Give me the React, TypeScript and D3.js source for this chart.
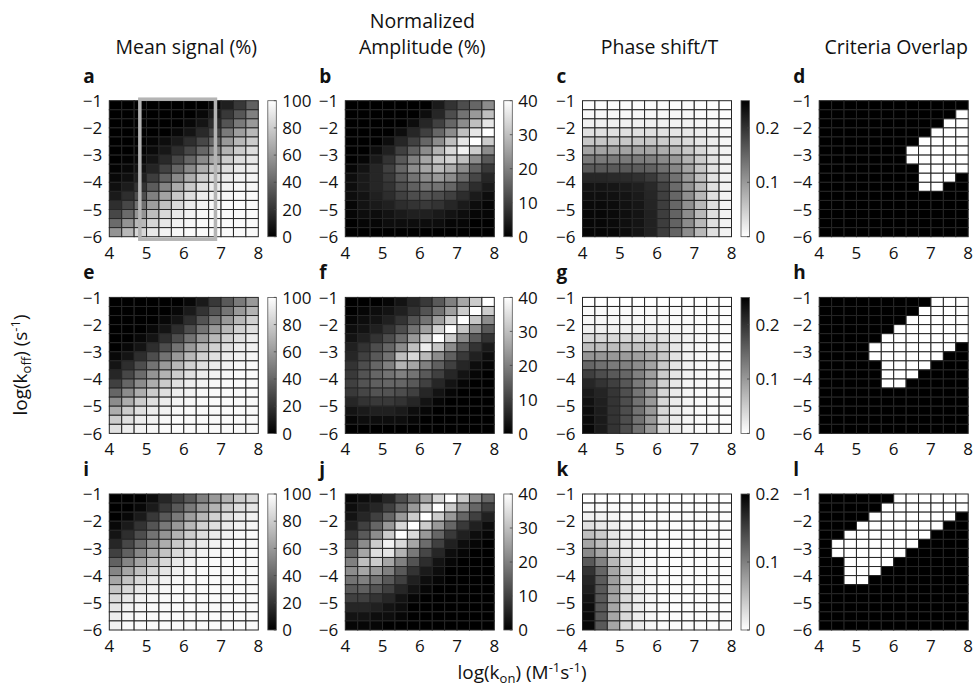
import React from "react";
import * as d3 from "d3";

// ---------- DATA (rows: log(koff) from -1 (top) to -6 (bottom); cols: log(kon) 4 -> 8) ----------
const NX = 12;
const NY = 15;
const xTicks = [4, 5, 6, 7, 8];
const yTicks = [-1, -2, -3, -4, -5, -6];
const titles = ["Mean signal (%)", "Normalized|Amplitude (%)", "Phase shift/T", "Criteria Overlap"];
const letters = ["a", "b", "c", "d", "e", "f", "g", "h", "i", "j", "k", "l"];
const signalTicks = [0, 20, 40, 60, 80, 100];
const amplitudeTicks = [0, 10, 20, 30, 40];
const phaseTicks = [0, 0.1, 0.2];

const meanSignalA = [
  [0,0,0,0,0,0,0,0,3,12,22,38],
  [0,0,0,0,0,0,0,3,10,22,34,50],
  [0,0,0,0,0,0,3,8,18,33,48,60],
  [0,0,0,0,0,3,8,16,28,48,62,72],
  [0,0,0,2,5,10,18,28,40,60,72,80],
  [0,0,1,4,9,18,28,40,52,70,80,87],
  [0,1,3,8,16,28,40,54,66,80,87,91],
  [1,3,7,14,26,40,54,68,78,87,92,94],
  [3,6,12,24,38,54,68,80,87,92,95,96],
  [6,11,20,36,52,67,79,88,92,95,97,97],
  [10,18,30,50,64,78,87,93,95,97,98,98],
  [18,28,44,62,76,86,92,95,97,98,98,98],
  [28,42,58,74,85,91,95,97,98,98,98,98],
  [42,58,72,84,91,95,97,98,98,98,98,98],
  [58,72,84,91,95,97,98,98,98,98,98,98],
];
const meanSignalE = [
  [0,0,0,0,0,0,3,10,22,35,48,60],
  [0,0,0,0,0,3,10,20,33,46,60,70],
  [0,0,0,0,3,8,18,32,46,60,72,82],
  [0,0,0,3,8,18,30,45,60,72,82,88],
  [0,0,3,8,18,30,45,60,72,82,88,93],
  [0,3,8,18,30,45,60,72,82,88,93,95],
  [3,8,18,30,45,60,72,82,88,93,95,97],
  [8,18,30,45,60,72,82,88,93,95,97,98],
  [15,28,42,58,70,80,88,93,95,97,98,98],
  [25,40,55,68,80,88,93,95,97,98,98,98],
  [40,55,68,80,88,93,95,97,98,98,98,98],
  [55,68,80,88,93,95,97,98,98,98,98,98],
  [68,80,88,93,95,97,98,98,98,98,98,98],
  [80,88,93,95,97,98,98,98,98,98,98,98],
  [88,93,95,97,98,98,98,98,98,98,98,98],
];
const meanSignalI = [
  [0,0,0,5,15,25,35,50,60,70,80,85],
  [0,0,3,10,22,35,48,60,70,80,87,90],
  [0,3,10,22,35,48,62,72,82,88,92,95],
  [3,10,20,33,47,60,72,82,88,92,95,97],
  [8,18,30,45,58,70,80,87,92,95,97,98],
  [15,28,42,56,68,79,87,92,95,97,98,98],
  [25,38,53,66,77,86,91,95,97,98,98,98],
  [38,52,64,75,85,91,95,97,98,98,98,98],
  [52,65,75,84,90,94,97,98,98,98,98,98],
  [65,77,85,91,95,97,98,98,98,98,98,98],
  [77,85,91,95,97,98,98,98,98,98,98,98],
  [85,91,95,97,98,98,98,98,98,98,98,98],
  [90,95,97,98,98,98,98,98,98,98,98,98],
  [93,97,98,98,98,98,98,98,98,98,98,98],
  [95,98,98,98,98,98,98,98,98,98,98,98],
];
const amplitudeB = [
  [0,0,0,0,0,0,0,4,8,12,16,22],
  [0,0,0,0,0,0,2,6,12,18,24,30],
  [0,0,0,0,0,2,6,10,16,22,30,36],
  [0,0,0,0,2,6,10,16,22,30,36,40],
  [0,0,0,2,6,10,16,22,30,36,40,32],
  [0,0,2,5,10,15,22,28,34,38,32,22],
  [0,1,4,8,14,20,26,31,33,30,22,14],
  [1,3,6,10,16,22,26,29,27,22,15,9],
  [2,4,6,9,14,18,22,24,22,17,11,6],
  [2,4,6,8,12,15,18,18,16,11,7,4],
  [2,3,5,7,10,12,13,12,10,7,4,2],
  [1,3,4,5,7,8,9,8,6,4,2,1],
  [1,2,2,3,4,5,5,4,3,2,1,1],
  [0,1,1,2,2,2,2,2,1,1,0,0],
  [0,0,0,0,0,0,0,0,0,0,0,0],
];
const amplitudeF = [
  [0,0,0,1,3,6,9,14,20,26,32,40],
  [0,1,2,3,5,8,13,18,25,32,40,32],
  [1,2,3,5,8,13,18,25,33,40,31,22],
  [2,3,5,8,12,18,25,33,40,31,22,14],
  [3,5,8,12,17,24,32,40,32,22,14,8],
  [5,8,12,16,22,30,37,31,22,14,8,4],
  [6,10,14,18,30,34,29,22,15,9,5,2],
  [8,12,16,20,28,26,20,15,10,6,2,1],
  [9,13,16,18,20,18,14,10,6,3,1,0],
  [10,13,15,16,16,14,10,6,3,1,0,0],
  [9,11,13,13,12,10,6,3,1,0,0,0],
  [6,8,9,9,8,6,3,1,0,0,0,0],
  [3,4,5,5,4,2,1,0,0,0,0,0],
  [1,2,2,2,2,1,0,0,0,0,0,0],
  [0,0,0,0,0,0,0,0,0,0,0,0],
];
const amplitudeJ = [
  [1,2,3,6,12,18,26,34,40,32,22,16],
  [2,4,6,10,16,24,32,40,32,24,16,10],
  [3,6,10,16,24,32,40,32,24,16,10,5],
  [5,10,16,24,34,40,32,24,16,9,5,2],
  [8,14,22,32,40,34,24,16,9,5,2,1],
  [12,22,32,38,34,26,17,10,5,2,1,0],
  [16,26,35,36,28,19,11,6,2,1,0,0],
  [20,30,32,26,20,13,7,3,1,0,0,0],
  [22,26,24,20,14,8,4,2,0,0,0,0],
  [18,20,18,14,10,5,2,1,0,0,0,0],
  [14,15,13,10,6,3,1,0,0,0,0,0],
  [10,10,8,6,3,1,0,0,0,0,0,0],
  [6,6,5,3,2,0,0,0,0,0,0,0],
  [3,3,2,2,1,0,0,0,0,0,0,0],
  [1,1,1,0,0,0,0,0,0,0,0,0],
];
const phaseC = [
  [0.003,0.003,0.003,0.003,0.003,0.003,0.003,0.003,0.003,0.003,0.003,0],
  [0.008,0.008,0.008,0.008,0.008,0.008,0.008,0.008,0.008,0.005,0.005,0.003],
  [0.015,0.015,0.015,0.015,0.015,0.015,0.015,0.013,0.013,0.01,0.008,0.005],
  [0.03,0.03,0.03,0.03,0.03,0.03,0.028,0.025,0.023,0.018,0.013,0.008],
  [0.055,0.055,0.055,0.055,0.055,0.055,0.05,0.043,0.035,0.025,0.018,0.01],
  [0.09,0.09,0.09,0.09,0.09,0.088,0.08,0.07,0.055,0.038,0.023,0.013],
  [0.13,0.13,0.13,0.13,0.128,0.125,0.115,0.1,0.075,0.05,0.028,0.013],
  [0.163,0.163,0.163,0.163,0.16,0.155,0.14,0.118,0.088,0.055,0.028,0.013],
  [0.213,0.213,0.21,0.208,0.203,0.193,0.17,0.138,0.1,0.063,0.028,0.013],
  [0.23,0.23,0.228,0.225,0.22,0.21,0.185,0.145,0.105,0.068,0.03,0.013],
  [0.235,0.235,0.233,0.23,0.225,0.213,0.188,0.15,0.11,0.07,0.03,0.013],
  [0.24,0.24,0.238,0.233,0.228,0.215,0.19,0.15,0.11,0.07,0.03,0.013],
  [0.243,0.243,0.24,0.235,0.23,0.218,0.19,0.153,0.113,0.07,0.03,0.013],
  [0.243,0.243,0.24,0.235,0.23,0.218,0.19,0.153,0.113,0.07,0.03,0.013],
  [0.245,0.245,0.243,0.238,0.23,0.218,0.19,0.153,0.113,0.07,0.03,0.013],
];
const phaseG = [
  [0,0,0,0,0,0,0,0,0,0,0,0],
  [0.005,0.005,0.005,0.005,0.005,0.005,0.005,0.005,0.003,0.003,0.003,0.003],
  [0.008,0.008,0.008,0.008,0.008,0.008,0.008,0.005,0.005,0.003,0.003,0.003],
  [0.015,0.015,0.015,0.015,0.015,0.015,0.013,0.01,0.008,0.005,0.005,0.003],
  [0.038,0.038,0.038,0.038,0.038,0.035,0.028,0.02,0.013,0.008,0.005,0.003],
  [0.065,0.065,0.065,0.063,0.06,0.055,0.043,0.025,0.013,0.008,0.005,0.003],
  [0.105,0.103,0.1,0.098,0.093,0.08,0.055,0.028,0.013,0.008,0.005,0.003],
  [0.15,0.14,0.13,0.125,0.113,0.09,0.053,0.025,0.013,0.008,0.005,0.003],
  [0.188,0.175,0.163,0.15,0.125,0.095,0.05,0.025,0.013,0.008,0.005,0.003],
  [0.213,0.2,0.188,0.165,0.13,0.095,0.045,0.023,0.01,0.008,0.005,0.003],
  [0.225,0.215,0.198,0.173,0.135,0.098,0.04,0.02,0.01,0.005,0.005,0.003],
  [0.233,0.22,0.2,0.175,0.138,0.1,0.038,0.02,0.01,0.005,0.005,0.003],
  [0.238,0.223,0.2,0.175,0.138,0.1,0.038,0.02,0.01,0.005,0.005,0.003],
  [0.24,0.225,0.2,0.175,0.138,0.1,0.038,0.02,0.01,0.005,0.005,0.003],
  [0.243,0.225,0.2,0.175,0.138,0.1,0.038,0.02,0.01,0.005,0.005,0.003],
];
const phaseK = [
  [0,0,0,0,0,0,0,0,0,0,0,0],
  [0.004,0.004,0.004,0.002,0.002,0.002,0.002,0.002,0.002,0.002,0.002,0.002],
  [0.012,0.01,0.008,0.004,0.004,0.002,0.002,0.002,0.002,0.002,0.002,0.002],
  [0.024,0.018,0.012,0.006,0.004,0.002,0.002,0.002,0.002,0.002,0.002,0.002],
  [0.05,0.04,0.02,0.01,0.006,0.002,0.002,0.002,0.002,0.002,0.002,0.002],
  [0.07,0.052,0.026,0.014,0.008,0.004,0.002,0.002,0.002,0.002,0.002,0.002],
  [0.092,0.07,0.036,0.016,0.01,0.004,0.002,0.002,0.002,0.002,0.002,0.002],
  [0.13,0.1,0.056,0.024,0.01,0.004,0.002,0.002,0.002,0.002,0.002,0.002],
  [0.16,0.12,0.07,0.03,0.014,0.006,0.002,0.002,0.002,0.002,0.002,0.002],
  [0.17,0.128,0.076,0.03,0.014,0.006,0.002,0.002,0.002,0.002,0.002,0.002],
  [0.176,0.13,0.076,0.03,0.014,0.006,0.002,0.002,0.002,0.002,0.002,0.002],
  [0.184,0.13,0.072,0.03,0.014,0.006,0.002,0.002,0.002,0.002,0.002,0.002],
  [0.19,0.13,0.07,0.03,0.014,0.006,0.002,0.002,0.002,0.002,0.002,0.002],
  [0.192,0.13,0.07,0.03,0.014,0.006,0.002,0.002,0.002,0.002,0.002,0.002],
  [0.194,0.13,0.07,0.03,0.014,0.006,0.002,0.002,0.002,0.002,0.002,0.002],
];
const overlapD = [
  "000000000000","000000000001","000000000011","000000000111","000000001111",
  "000000011111","000000011111","000000001111","000000001110","000000001100",
  "000000000000","000000000000","000000000000","000000000000","000000000000",
];
const overlapH = [
  "000000000111","000000001111","000000011111","000000111111","000001111111",
  "000011111110","000011111100","000001111000","000001110000","000001100000",
  "000000000000","000000000000","000000000000","000000000000","000000000000",
];
const overlapL = [
  "000000111111","000001111111","000011111110","000111111100","001111111000",
  "011111110000","011111100000","001111000000","001110000000","001100000000",
  "000000000000","000000000000","000000000000","000000000000","000000000000",
];

const toNum = (rows: string[]) => rows.map((r) => r.split("").map(Number));

const grid: number[][][][] = [
  [meanSignalA, amplitudeB, phaseC, toNum(overlapD)],
  [meanSignalE, amplitudeF, phaseG, toNum(overlapH)],
  [meanSignalI, amplitudeJ, phaseK, toNum(overlapL)],
];

// ---------- LAYOUT ----------
const W = 978;
const H = 692;
const LEFTS = [109.3, 345.3, 582.5, 819.2];
const TOPS = [100.7, 297.4, 494];
const PW = 149;
const PH = 136;
const FONT = "'Open Sans', 'DejaVu Sans', sans-serif";
const TICK_FS = 17;

function colorScale(col: number, row: number) {
  if (col === 0) return d3.scaleLinear<string>().domain([0, 100]).range(["#000", "#fff"]).clamp(true);
  if (col === 1) return d3.scaleLinear<string>().domain([0, 40]).range(["#000", "#fff"]).clamp(true);
  if (col === 2) {
    const mx = row === 2 ? 0.2 : 0.25;
    return d3.scaleLinear<string>().domain([0, mx]).range(["#fff", "#000"]).clamp(true);
  }
  return d3.scaleLinear<string>().domain([0, 1]).range(["#000", "#fff"]).clamp(true);
}

function Panel({ row, col }: { row: number; col: number }) {
  const left = LEFTS[col];
  const top = TOPS[row];
  const data = grid[row][col];
  const xs = d3.scaleLinear().domain([4, 8]).range([left, left + PW]);
  const ys = d3.scaleLinear().domain([-6, -1]).range([top + PH, top]);
  const cs = colorScale(col, row);
  const dx = 4 / NX;
  const dy = 5 / NY;
  const cells: JSX.Element[] = [];
  data.forEach((r, ri) =>
    r.forEach((v, ci) => {
      const x0 = xs(4 + ci * dx);
      const x1 = xs(4 + (ci + 1) * dx);
      const y0 = ys(-1 - ri * dy);
      const y1 = ys(-1 - (ri + 1) * dy);
      cells.push(
        <rect key={`${ri}-${ci}`} x={x0} y={y0} width={x1 - x0} height={y1 - y0}
          fill={cs(v)} stroke="#262626" strokeWidth={1} />
      );
    })
  );

  let cb: JSX.Element | null = null;
  if (col < 3) {
    const cbx = left + 158.5;
    const cbw = 8.5;
    const dom = cs.domain();
    const ticks = col === 0 ? signalTicks : col === 1 ? amplitudeTicks : phaseTicks;
    const cy = d3.scaleLinear().domain(dom).range([top + PH, top]);
    const gid = `grad-${row}-${col}`;
    cb = (
      <g>
        <defs>
          <linearGradient id={gid} x1="0" y1="1" x2="0" y2="0">
            <stop offset="0" stopColor={cs(dom[0])} />
            <stop offset="1" stopColor={cs(dom[1])} />
          </linearGradient>
        </defs>
        <rect x={cbx} y={top} width={cbw} height={PH} fill={`url(#${gid})`} stroke="#555" strokeWidth={0.8} />
        {ticks.map((t) => (
          <g key={t}>
            <line x1={cbx + cbw} x2={cbx + cbw - 2.5} y1={cy(t)} y2={cy(t)} stroke="#444" strokeWidth={0.8} />
            <text x={left + 173} y={cy(t)} dy="0.36em" fontSize={TICK_FS} fontFamily={FONT} fill="#111">
              {String(t)}
            </text>
          </g>
        ))}
      </g>
    );
  }

  return (
    <g>
      {cells}
      {col === 0 && row === 0 && (
        <rect x={xs(4.82)} y={top - 1.5} width={xs(6.85) - xs(4.82)} height={PH + 4}
          fill="none" stroke="#b4b4b4" strokeWidth={3.5} />
      )}
      {yTicks.map((t) => (
        <text key={t} x={left - 7} y={ys(t)} dy="0.36em" textAnchor="end" fontSize={TICK_FS} fontFamily={FONT} fill="#111">
          {"\u2212" + Math.abs(t)}
        </text>
      ))}
      {xTicks.map((t) => (
        <text key={t} x={xs(t)} y={top + PH + 22} textAnchor="middle" fontSize={TICK_FS} fontFamily={FONT} fill="#111">
          {t}
        </text>
      ))}
      <text x={left - 26} y={top - 18} fontSize={19} fontWeight="bold" fontFamily={FONT} fill="#111">
        {letters[row * 4 + col]}
      </text>
      {cb}
    </g>
  );
}

export default function App() {
  const panels: JSX.Element[] = [];
  for (let r = 0; r < 3; r++) for (let c = 0; c < 4; c++) panels.push(<Panel key={`${r}${c}`} row={r} col={c} />);
  return (
    <svg width={W} height={H} style={{ position: "absolute", left: 0, top: 0, background: "#fff" }}>
      <rect x={0} y={0} width={W} height={H} fill="#fff" />
      {titles.map((t, i) => {
        const lines = t.split("|");
        const cx = LEFTS[i] + 77;
        return lines.map((ln, j) => (
          <text key={`${i}-${j}`} x={cx} y={54 - (lines.length - 1 - j) * 26} textAnchor="middle"
            fontSize={19.5} fontFamily={FONT} fill="#111">
            {ln}
          </text>
        ));
      })}
      {panels}
      <text transform="translate(27,365) rotate(-90)" textAnchor="middle" fontSize={19} fontFamily={FONT} fill="#111">
        log(k<tspan fontSize={13} dy={4}>off</tspan><tspan dy={-4}>) (s</tspan>
        <tspan fontSize={13} dy={-7}>-1</tspan><tspan dy={7}>)</tspan>
      </text>
      <text x={522} y={679} textAnchor="middle" fontSize={19} fontFamily={FONT} fill="#111">
        log(k<tspan fontSize={13} dy={4}>on</tspan><tspan dy={-4}>) (M</tspan>
        <tspan fontSize={13} dy={-7}>-1</tspan><tspan dy={7}>s</tspan>
        <tspan fontSize={13} dy={-7}>-1</tspan><tspan dy={7}>)</tspan>
      </text>
    </svg>
  );
}
